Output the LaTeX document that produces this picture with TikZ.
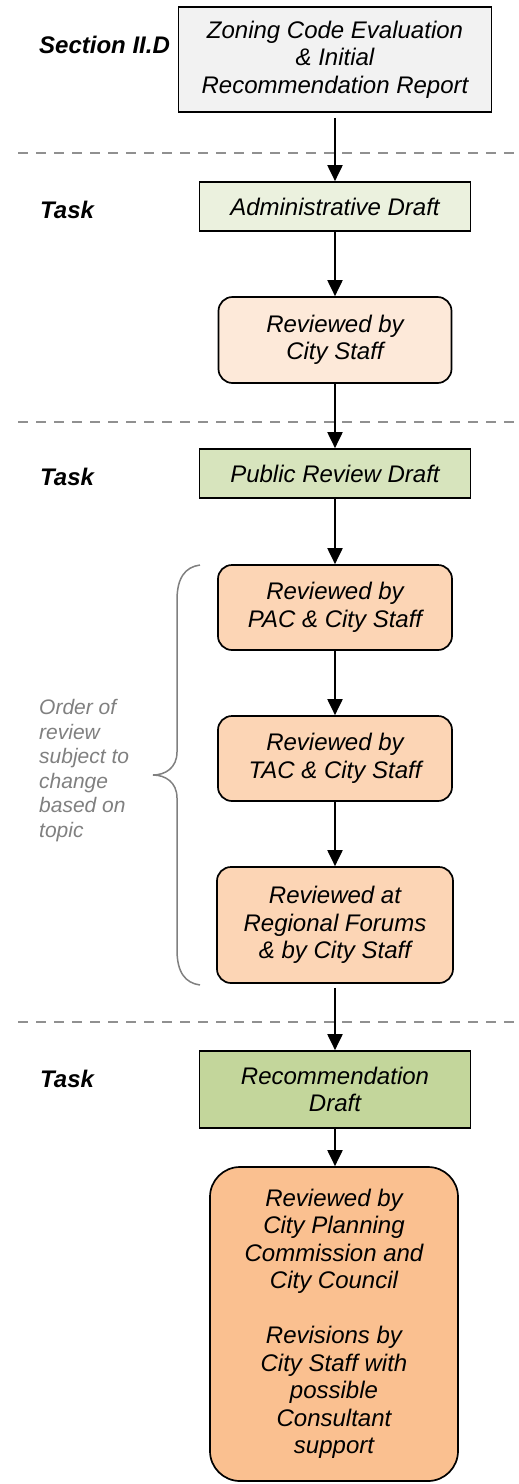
\documentclass[tikz,border=0pt]{standalone}
\usepackage{fontspec}
\setmainfont{Liberation Sans}
\usetikzlibrary{arrows.meta}
\definecolor{evalgray}{HTML}{F2F2F2}
\definecolor{draftpale}{HTML}{EBF1DE}
\definecolor{draftmid}{HTML}{D7E4BD}
\definecolor{draftdark}{HTML}{C3D69B}
\definecolor{reviewpale}{HTML}{FDE9D9}
\definecolor{reviewmid}{HTML}{FCD5B5}
\definecolor{reviewdark}{HTML}{FAC090}
\definecolor{notegray}{HTML}{808080}
\definecolor{linegray}{HTML}{909090}
\tikzset{
  flowbox/.style={draw=black, line width=1.7pt, inner sep=0pt, align=center,
    font=\fontsize{24}{27.5}\selectfont\itshape},
  taskbox/.style={flowbox, minimum width=271pt},
  reviewbox/.style={flowbox, rounded corners=14pt, minimum width=234pt},
  sidelabel/.style={anchor=west, inner sep=0pt, font=\fontsize{24}{27.5}\selectfont\bfseries\itshape},
  phaseline/.style={draw=linegray, line width=2.5pt, dash pattern=on 10pt off 8pt},
  flowarrow/.style={->, line width=2pt}
}

\begin{document}
\begin{tikzpicture}[x=1pt, y=-1pt, >={Triangle[width=15pt, length=16pt]}]
    \useasboundingbox (0,0) rectangle (519,1484);
    % boxes of the flow
    \node[flowbox, fill=evalgray, minimum width=313pt, minimum height=105pt] (eval) at (335,59.5)
        {Zoning Code Evaluation\\ \& Initial\\ Recommendation Report};
    \node[taskbox, fill=draftpale, minimum height=49pt] (admin) at (335,206.5) {Administrative Draft};
    \node[reviewbox, fill=reviewpale, minimum width=233pt, minimum height=86pt] (staff) at (335,340)
        {Reviewed by\\ City Staff};
    \node[taskbox, fill=draftmid, minimum height=49pt] (public) at (335,473.5) {Public Review Draft};
    \node[reviewbox, fill=reviewmid, minimum height=85pt] (pac) at (335,607.5)
        {Reviewed by\\ PAC \& City Staff};
    \node[reviewbox, fill=reviewmid, minimum height=85pt] (tac) at (335,758.5)
        {Reviewed by\\ TAC \& City Staff};
    \node[reviewbox, fill=reviewmid, minimum width=236pt, minimum height=116pt] (forums) at (335,925)
        {Reviewed at\\ Regional Forums\\ \& by City Staff};
    \node[taskbox, fill=draftdark, minimum height=77pt] (recdraft) at (335,1089.5)
        {Recommendation\\ Draft};
    \node[flowbox, fill=reviewdark, rounded corners=30pt, minimum width=248pt, minimum height=314pt] (council) at (334,1324)
        {Reviewed by\\ City Planning\\ Commission and\\ City Council\\[27.5pt]
         Revisions by\\ City Staff with\\ possible\\ Consultant\\ support};
    % labels on the left
    \node[sidelabel] (section) at (39,44.5) {Section II.D};
    \node[sidelabel] (task1) at (40,210) {Task};
    \node[sidelabel] (task2) at (40,477) {Task};
    \node[sidelabel] (task3) at (40,1079) {Task};
    \node[anchor=north west, inner sep=0pt, align=left, text=notegray,
        font=\fontsize{21}{24.6}\selectfont\itshape] (note) at (39,699)
        {Order of\\ review\\ subject to\\ change\\ based on\\ topic};
    % phase separators
    \coordinate (sep1l) at (18,153);   \coordinate (sep1r) at (519,153);
    \coordinate (sep2l) at (18,422);   \coordinate (sep2r) at (519,422);
    \coordinate (sep3l) at (18,1022);  \coordinate (sep3r) at (519,1022);
    \draw[phaseline] (sep1l) -- (sep1r);
    \draw[phaseline] (sep2l) -- (sep2r);
    \draw[phaseline] (sep3l) -- (sep3r);
    % brace round the review steps
    \draw[notegray, line width=1.5pt]
        (200,565) .. controls (185,567) and (177,578) .. (177,600) -- (177,752)
        .. controls (177,768) and (165,775) .. (153,775)
        .. controls (165,775) and (177,782) .. (177,798) -- (177,950)
        .. controls (177,972) and (185,983) .. (200,985);
    % arrows
    \draw[flowarrow, shorten <=5pt] (eval) -- (admin);
    \draw[flowarrow] (admin) -- (staff);
    \draw[flowarrow] (staff) -- (public);
    \draw[flowarrow] (public) -- (pac);
    \draw[flowarrow] (pac) -- (tac);
    \draw[flowarrow] (tac) -- (forums);
    \draw[flowarrow, shorten <=4pt] (forums) -- (recdraft);
    \draw[flowarrow] (recdraft) -- (council.north -| recdraft);
\end{tikzpicture}
\end{document}
